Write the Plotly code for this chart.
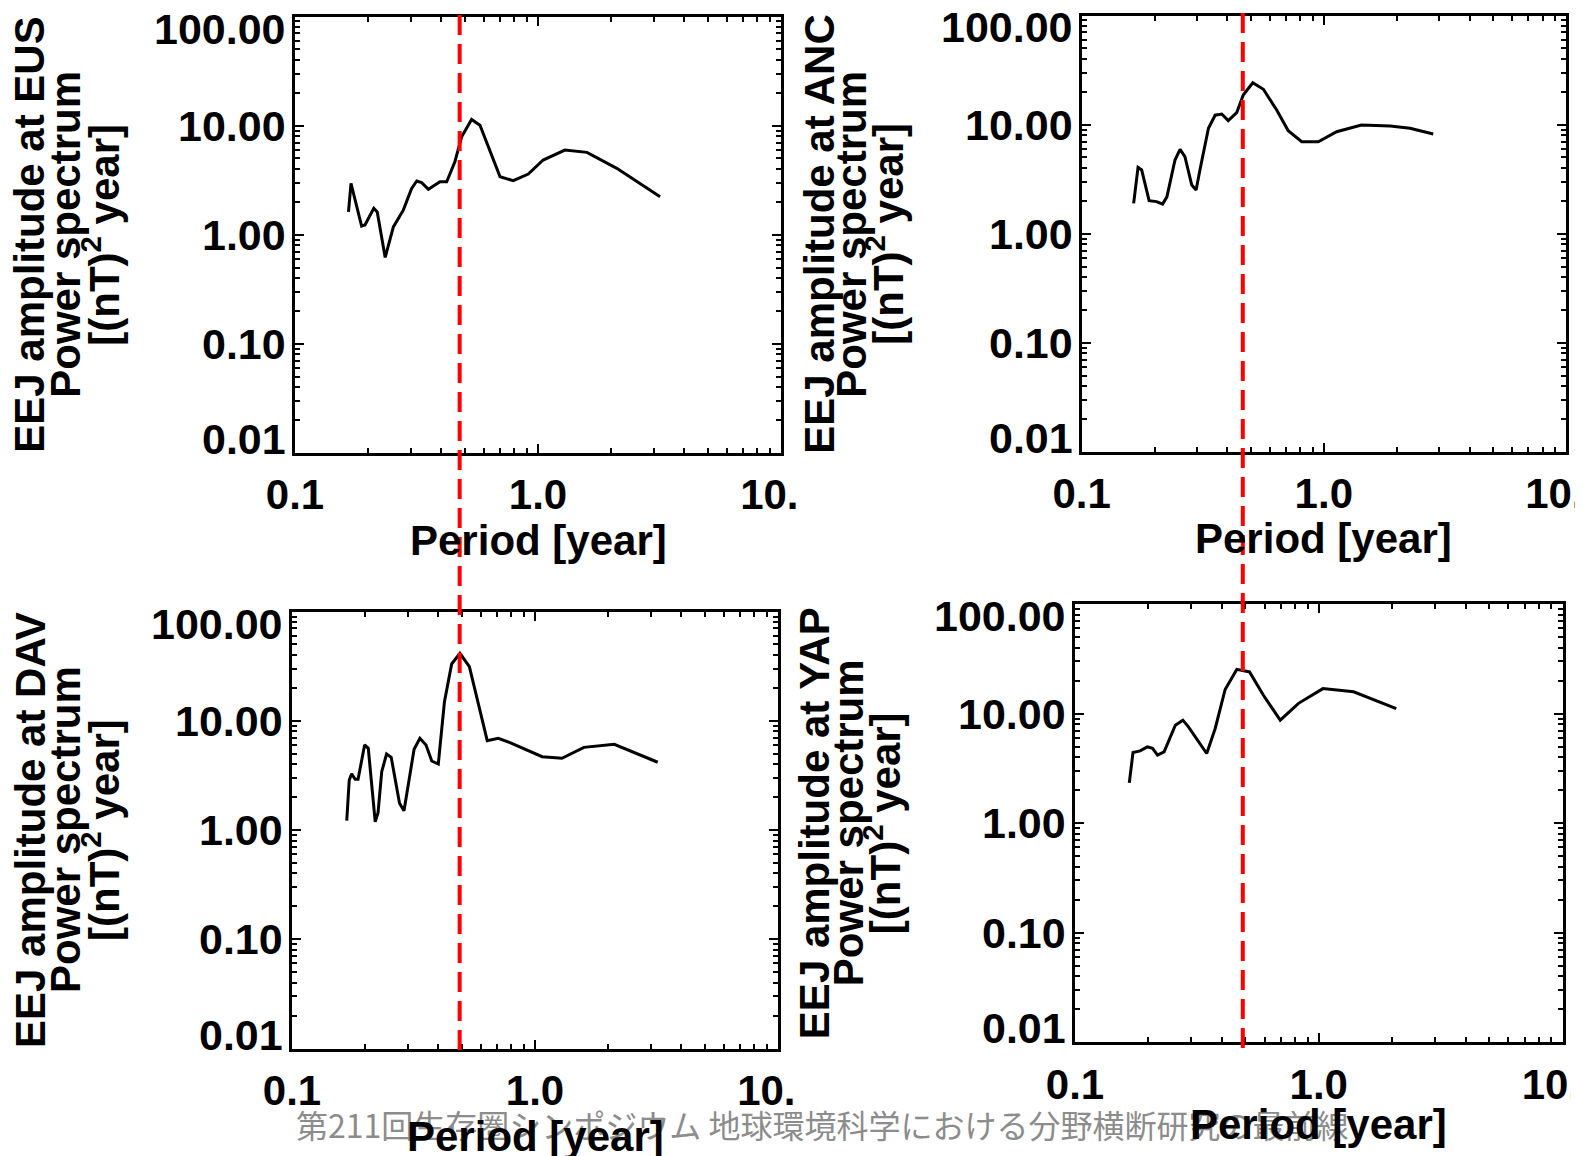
import numpy as np
import plotly.graph_objects as go

W, H = 1583, 1156
OFF = 8   # page margin of the HTML body

# ---------------- data ----------------
eus_period = [0.166, 0.170, 0.188, 0.194, 0.211, 0.218, 0.235, 0.254, 0.279, 0.302,
              0.317, 0.332, 0.354, 0.395, 0.421, 0.455, 0.485, 0.533, 0.577, 0.698,
              0.791, 0.912, 1.05, 1.29, 1.59, 2.11, 3.18]
eus_power = [1.62, 2.96, 1.20, 1.23, 1.75, 1.62, 0.62, 1.18, 1.68, 2.66,
             3.11, 3.00, 2.61, 3.06, 3.06, 4.67, 7.91, 11.4, 10.1, 3.40,
             3.13, 3.60, 4.84, 5.97, 5.69, 4.06, 2.23]

anc_period = [0.164, 0.171, 0.177, 0.190, 0.204, 0.216, 0.225, 0.243, 0.255, 0.267,
              0.285, 0.297, 0.308, 0.334, 0.356, 0.379, 0.403, 0.437, 0.465, 0.509,
              0.563, 0.639, 0.713, 0.811, 0.949, 1.13, 1.43, 1.88, 2.27, 2.83]
anc_power = [1.90, 4.06, 3.84, 2.01, 1.97, 1.87, 2.18, 4.74, 5.94, 5.08,
             2.79, 2.52, 3.84, 9.25, 12.2, 12.5, 10.9, 12.9, 18.7, 24.2,
             21.1, 13.6, 8.79, 6.97, 6.97, 8.61, 9.91, 9.71, 9.25, 8.20]

dav_period = [0.168, 0.172, 0.176, 0.182, 0.187, 0.199, 0.206, 0.220, 0.226, 0.234,
              0.245, 0.256, 0.277, 0.289, 0.318, 0.336, 0.356, 0.376, 0.400, 0.424,
              0.454, 0.491, 0.537, 0.636, 0.706, 0.789, 1.07, 1.29, 1.59, 2.12, 3.20]
dav_power = [1.22, 2.87, 3.26, 2.91, 2.91, 6.00, 5.60, 1.19, 1.44, 3.42,
             4.96, 4.63, 1.76, 1.50, 5.48, 6.91, 6.00, 4.28, 4.02, 14.9,
             33.1, 41.4, 31.3, 6.57, 6.91, 6.30, 4.69, 4.53, 5.71, 6.09, 4.17]

yap_period = [0.167, 0.173, 0.185, 0.198, 0.208, 0.218, 0.232, 0.258, 0.277, 0.292,
              0.347, 0.376, 0.413, 0.461, 0.520, 0.593, 0.695, 0.826, 1.04, 1.39, 2.08]
yap_power = [2.33, 4.42, 4.57, 4.97, 4.81, 4.17, 4.47, 7.84, 8.71, 7.56,
             4.32, 7.31, 16.6, 25.3, 24.0, 14.7, 8.71, 12.4, 16.9, 15.8, 11.1]

stations = ["EUS", "ANC", "DAV", "YAP"]
x_tickvals = [0.1, 1.0, 10.0]
x_ticktext = ["0.1", "1.0", "10.0"]
y_tickvals = [100, 10, 1, 0.1, 0.01]
y_ticktext = ["100.00", "10.00", "1.00", "0.10", "0.01"]
marker_period_left = 0.476    # red dashed reference line (left column)
marker_period_right = 0.463   # red dashed reference line (right column)
watermark = "第211回生存圏シンポジウム 地球環境科学における分野横断研究の最前線"
xtitle = "Period [year]"

series = [(eus_period, eus_power), (anc_period, anc_power),
          (dav_period, dav_power), (yap_period, yap_power)]

# ---------------- layout geometry (pixels of the target picture) ----------------
boxes = [(295, 16.5, 781, 453),       # TL
         (1081.6, 15.5, 1566, 452),   # TR
         (292, 611.5, 778, 1048.5),   # BL
         (1075, 604, 1562.5, 1042.3)]  # BR
ytitle_x = [(30, 66, 101), (820, 852, 885), (30, 65, 101), (814, 848, 883)]
xtitle_y = [540, 538, 1136, 1124]
FONT = "Liberation Sans, Arial, sans-serif"
XRANGE = [-1, 1]
YRANGE = [-2, 2]
FW, FH = W - OFF, H - OFF

def px(x):
    return (x - OFF) / FW

def py(y):
    return 1 - (y - OFF) / FH

def period_to_paper(box, period):
    x0, _, x1, _ = box
    frac = (np.log10(period) - XRANGE[0]) / (XRANGE[1] - XRANGE[0])
    return px(x0 + frac * (x1 - x0))

fig = go.Figure()
minor_x = [m * 10 ** e for e in (-1, 0) for m in range(2, 10)]
minor_y = [m * 10 ** e for e in (-2, -1, 0, 1) for m in range(2, 10)]

annotations = []
annotations.append(dict(text=watermark, xref="paper", yref="paper", x=px(822), y=py(1124),
                        showarrow=False, xanchor="center", yanchor="middle",
                        font=dict(family="Noto Sans CJK JP", size=32, color="#8c8c8c")))

for i, ((per, pw), box, st) in enumerate(zip(series, boxes, stations)):
    n = "" if i == 0 else str(i + 1)
    xa, ya = "x" + n, "y" + n
    x0, y0, x1, y1 = box
    fig.add_trace(go.Scatter(x=per, y=pw, mode="lines", xaxis=xa, yaxis=ya,
                             line=dict(color="black", width=3), showlegend=False))
    common = dict(showline=True, linecolor="black", linewidth=3, mirror="allticks",
                  ticks="inside", tickcolor="black", tickwidth=2, ticklen=9,
                  showgrid=False, zeroline=False, type="log", automargin=False)
    fig.layout["xaxis" + n] = dict(common, domain=[px(x0), px(x1)], anchor=ya,
                                   range=XRANGE, tickmode="array", tickvals=x_tickvals,
                                   ticktext=x_ticktext, ticklabelstandoff=3,
                                   ticklabeloverflow="allow",
                                   tickfont=dict(family=FONT, size=42, color="black", weight="bold"),
                                   minor=dict(tickmode="array", tickvals=minor_x, ticks="inside",
                                              ticklen=5, tickwidth=2, tickcolor="black", showgrid=False))
    fig.layout["yaxis" + n] = dict(common, domain=[py(y1), py(y0)], anchor=xa,
                                   range=YRANGE, tickmode="array", tickvals=y_tickvals,
                                   showticklabels=False,
                                   minor=dict(tickmode="array", tickvals=minor_y, ticks="inside",
                                              ticklen=5, tickwidth=2, tickcolor="black", showgrid=False))
    # y tick labels
    for v, t in zip(y_tickvals, y_ticktext):
        shift = -12 if v == max(y_tickvals) else (14 if v == min(y_tickvals) else 0)
        annotations.append(dict(text=t, xref=xa + " domain", x=0, yref=ya, y=np.log10(v),
                                xanchor="right", yanchor="middle", xshift=-7, yshift=shift,
                                showarrow=False,
                                font=dict(family=FONT, size=43, color="black", weight="bold")))
    # x title
    annotations.append(dict(text=xtitle, xref=xa + " domain", x=0.5, yref="paper", y=py(xtitle_y[i]),
                            xanchor="center", yanchor="middle", showarrow=False,
                            font=dict(family=FONT, size=42, color="black", weight="bold")))
    # y title (three tightly spaced lines)
    ymid = py((y0 + y1) / 2)
    lines = ["EEJ amplitude at " + st, "Power spectrum", "[(nT)<sup>2</sup> year]"]
    for xx, txt in zip(ytitle_x[i], lines):
        annotations.append(dict(text=txt, xref="paper", yref="paper", x=px(xx), y=ymid,
                                textangle=-90, xanchor="center", yanchor="middle", showarrow=False,
                                font=dict(family=FONT, size=42, color="black", weight="bold")))

shapes = []
# white masks that crop the outermost x labels as in the composite figure
for (a, b, c, d) in [(796, 462, 840, 525), (796, 1056, 840, 1115), (1571, 1050, 1600, 1105)]:
    shapes.append(dict(type="rect", xref="paper", yref="paper", x0=px(a), x1=px(c),
                       y0=py(d), y1=py(b), fillcolor="white", line=dict(width=0), layer="above"))
# red dashed reference lines (through the top panels' period scale)
xl = period_to_paper(boxes[0], marker_period_left)
xr = period_to_paper(boxes[1], marker_period_right)
shapes.append(dict(type="line", xref="paper", yref="paper", x0=xl, x1=xl,
                   y0=py(1050), y1=1, line=dict(color="red", width=4, dash="20px,9px"), layer="above"))
shapes.append(dict(type="line", xref="paper", yref="paper", x0=xr, x1=xr,
                   y0=py(1048), y1=1, line=dict(color="red", width=4, dash="20px,9px"), layer="above"))

fig.update_layout(width=FW, height=FH, margin=dict(l=0, r=0, t=0, b=0),
                  paper_bgcolor="white", plot_bgcolor="white",
                  annotations=annotations, shapes=shapes, showlegend=False)

fig.write_html("out.html")
